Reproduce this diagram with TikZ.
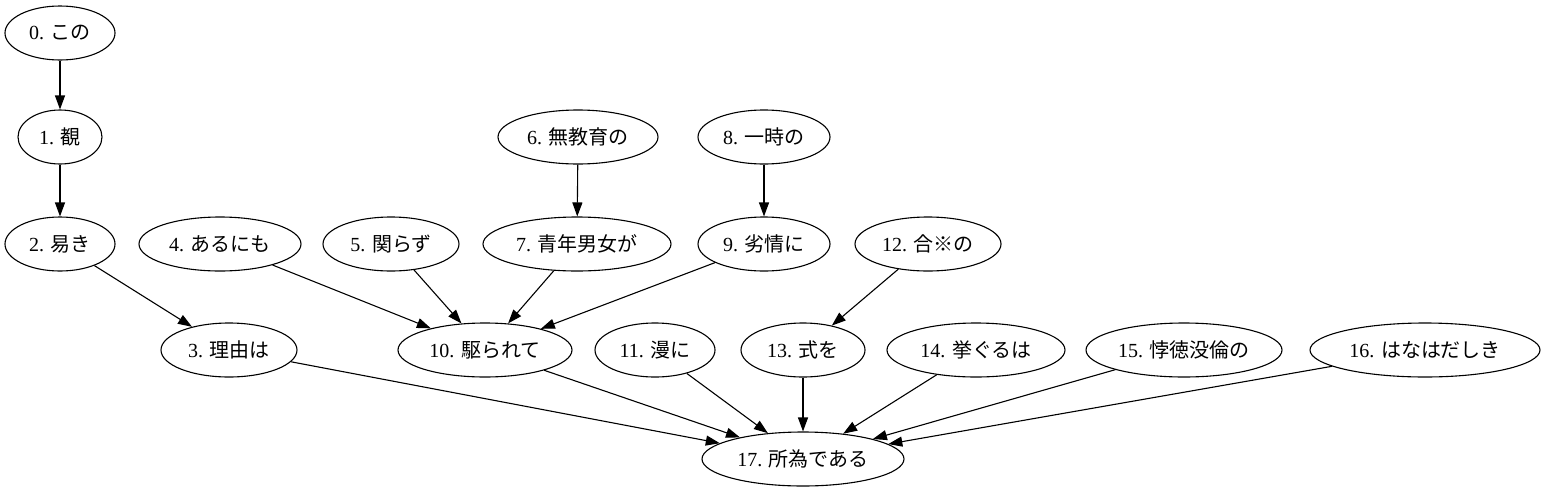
\documentclass[tikz,border=0pt]{standalone}
\usepackage{fontspec}
\setmainfont{Liberation Serif}
\newfontfamily\cjk{Noto Sans CJK JP}
\usetikzlibrary{shapes.geometric,arrows.meta}
\tikzset{
  nd/.style={ellipse, draw, line width=1.1pt, inner sep=0pt, minimum height=54pt, font=\fontsize{20}{23}\selectfont},
  ed/.style={line width=1.1pt, -{Triangle[length=14pt,width=10pt]}}
}
\begin{document}
\begin{tikzpicture}[x=1pt,y=-1pt]
\useasboundingbox (0,0) rectangle (1546,493);
\node[nd, minimum width=110pt] (n0) at (60,33) {0. {\cjk この}};
\node[nd, minimum width=84pt] (n1) at (60,137) {1. {\cjk 覩}};
\node[nd, minimum width=110pt] (n2) at (60,244) {2. {\cjk 易き}};
\node[nd, minimum width=136pt] (n3) at (229,350) {3. {\cjk 理由は}};
\node[nd, minimum width=162pt] (n4) at (220,244) {4. {\cjk あるにも}};
\node[nd, minimum width=136pt] (n5) at (391,244) {5. {\cjk 関らず}};
\node[nd, minimum width=160pt] (n6) at (578,137) {6. {\cjk 無教育の}};
\node[nd, minimum width=188pt] (n7) at (577,244) {7. {\cjk 青年男女が}};
\node[nd, minimum width=132pt] (n8) at (764,137) {8. {\cjk 一時の}};
\node[nd, minimum width=132pt] (n9) at (764,244) {9. {\cjk 劣情に}};
\node[nd, minimum width=174pt] (n10) at (485,350) {10. {\cjk 駆られて}};
\node[nd, minimum width=120pt] (n11) at (655,350) {11. {\cjk 漫に}};
\node[nd, minimum width=146pt] (n12) at (928,244) {12. {\cjk 合※の}};
\node[nd, minimum width=124pt] (n13) at (803,350) {13. {\cjk 式を}};
\node[nd, minimum width=178pt] (n14) at (976,350) {14. {\cjk 挙ぐるは}};
\node[nd, minimum width=196pt] (n15) at (1184,350) {15. {\cjk 悖徳没倫の}};
\node[nd, minimum width=230pt] (n16) at (1425,350) {16. {\cjk はなはだしき}};
\node[nd, minimum width=202pt] (n17) at (803,459) {17. {\cjk 所為である}};
\draw[ed] (n0) -- (n1);
\draw[ed] (n1) -- (n2);
\draw[ed] (n2) -- (n3);
\draw[ed] (n4) -- (n10);
\draw[ed] (n5) -- (n10);
\draw[ed] (n7) -- (n10);
\draw[ed] (n9) -- (n10);
\draw[ed] (n6) -- (n7);
\draw[ed] (n8) -- (n9);
\draw[ed] (n12) -- (n13);
\draw[ed] (n3) -- (n17);
\draw[ed] (n10) -- (n17);
\draw[ed] (n11) -- (n17);
\draw[ed] (n13) -- (n17);
\draw[ed] (n14) -- (n17);
\draw[ed] (n15) -- (n17);
\draw[ed] (n16) -- (n17);
\end{tikzpicture}
\end{document}
